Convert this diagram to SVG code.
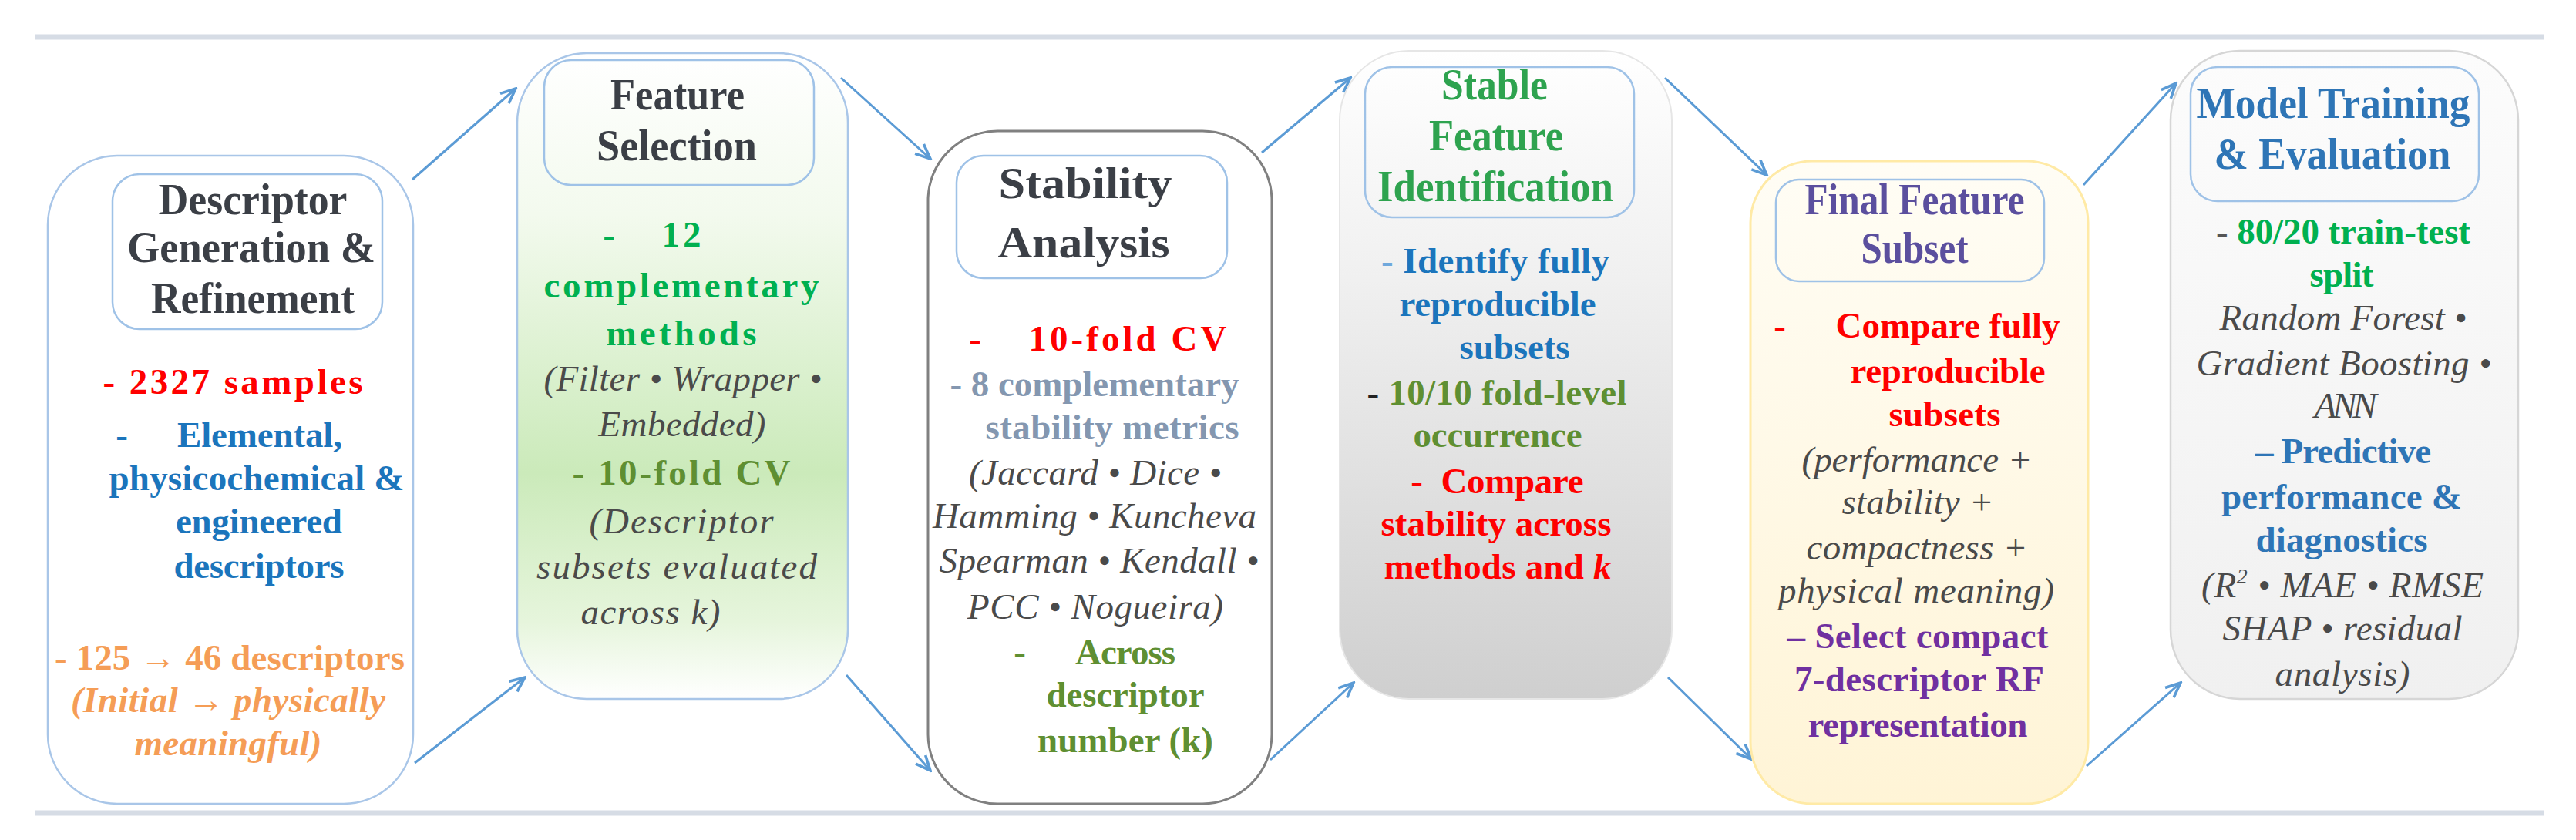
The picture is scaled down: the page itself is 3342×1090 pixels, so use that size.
<svg xmlns="http://www.w3.org/2000/svg" width="3342" height="1090" viewBox="0 0 3342 1090">
<style>
text{font-family:"Liberation Serif","Times New Roman",serif;text-anchor:middle}
.t{font-weight:bold;font-size:57px;fill:#3b3f46}
.b{font-weight:bold;font-size:47px}
.i{font-style:italic;font-size:47px;fill:#4a4a4a}
.red{fill:#ff0000}.blue{fill:#1b75bc}.org{fill:#f59d56}.grn{fill:#00b050}.olv{fill:#5f8f32}
.gb{fill:#8497b0}.pur{fill:#7030a0}.ttl{fill:none;stroke:#9fc2e7;stroke-width:2.5}
.con{fill:none;stroke:#5b9bd5;stroke-width:3;marker-end:url(#ah)}
</style>
<defs>
<marker id="ah" viewBox="0 0 20 20" markerUnits="userSpaceOnUse" markerWidth="24" markerHeight="24" refX="18" refY="10" orient="auto">
<path d="M2,3 L18,10 L2,17" fill="none" stroke="#5b9bd5" stroke-width="3"/>
</marker>
<linearGradient id="g2" x1="0" y1="0" x2="0" y2="1">
<stop offset="0" stop-color="#ffffff"/><stop offset="0.25" stop-color="#f3faee"/><stop offset="0.65" stop-color="#cbeaba"/><stop offset="0.88" stop-color="#e6f5dc"/><stop offset="1" stop-color="#ffffff"/>
</linearGradient>
<linearGradient id="g4" x1="0" y1="0" x2="0" y2="1">
<stop offset="0" stop-color="#ffffff"/><stop offset="0.35" stop-color="#f0f0f0"/><stop offset="1" stop-color="#cfcfcf"/>
</linearGradient>
<linearGradient id="g5" x1="0" y1="0" x2="0" y2="1">
<stop offset="0" stop-color="#fffdf5"/><stop offset="1" stop-color="#fff4d6"/>
</linearGradient>
<linearGradient id="g6" x1="0" y1="0" x2="0" y2="1">
<stop offset="0" stop-color="#fcfcfc"/><stop offset="1" stop-color="#f0f0f0"/>
</linearGradient>
</defs>
<rect width="3342" height="1090" fill="#ffffff"/>
<line x1="45" y1="48" x2="3300" y2="48" stroke="#d6dce5" stroke-width="7"/>
<line x1="45" y1="1055" x2="3300" y2="1055" stroke="#d6dce5" stroke-width="7"/>

<g id="connectors">
<line class="con" x1="535" y1="233" x2="669" y2="115"/>
<line class="con" x1="538" y1="990" x2="681" y2="879"/>
<line class="con" x1="1091" y1="101" x2="1207" y2="206"/>
<line class="con" x1="1098" y1="876" x2="1207" y2="1000"/>
<line class="con" x1="1637" y1="198" x2="1752" y2="101"/>
<line class="con" x1="1648" y1="986" x2="1756" y2="886"/>
<line class="con" x1="2160" y1="101" x2="2292" y2="227"/>
<line class="con" x1="2164" y1="879" x2="2272" y2="985"/>
<line class="con" x1="2703" y1="240" x2="2823" y2="108"/>
<line class="con" x1="2707" y1="994" x2="2829" y2="886"/>
</g>

<g id="node1">
<rect x="62" y="202" width="474" height="841" rx="90" fill="#ffffff" stroke="#a9c6e8" stroke-width="2.5"/>
<rect class="ttl" x="146" y="226" width="350" height="201" rx="35"/>
<text class="t" x="328" y="278" textLength="245" lengthAdjust="spacingAndGlyphs">Descriptor</text>
<text class="t" x="326" y="340" textLength="322" lengthAdjust="spacingAndGlyphs">Generation &amp;</text>
<text class="t" x="328" y="406" textLength="264" lengthAdjust="spacingAndGlyphs">Refinement</text>
<text class="b red" x="302" y="511" font-size="53" textLength="337">- 2327 samples</text>
<text class="b blue" x="158" y="580">-</text>
<text class="b blue" x="337" y="580" textLength="214">Elemental,</text>
<text class="b blue" x="333" y="636" textLength="383">physicochemical &amp;</text>
<text class="b blue" x="336" y="692" textLength="216">engineered</text>
<text class="b blue" x="336" y="750" textLength="221">descriptors</text>
<text class="b org" x="298" y="869" textLength="454">- 125 → 46 descriptors</text>
<text class="i org" x="296" y="924" font-weight="bold" textLength="408">(Initial → physically</text>
<text class="i org" x="296" y="980" font-weight="bold" textLength="243">meaningful)</text>
</g>

<g id="node2">
<rect x="671" y="69" width="429" height="838" rx="90" fill="url(#g2)" stroke="#a9c6e8" stroke-width="2.5"/>
<rect class="ttl" x="706" y="78" width="350" height="162" rx="35"/>
<text class="t" x="879" y="142" textLength="174" lengthAdjust="spacingAndGlyphs">Feature</text>
<text class="t" x="878" y="208" textLength="208" lengthAdjust="spacingAndGlyphs">Selection</text>
<text class="b grn" x="790" y="320" font-size="55">-</text>
<text class="b grn" x="884" y="320" font-size="55" textLength="51">12</text>
<text class="b grn" x="884" y="386" font-size="54" textLength="357">complementary</text>
<text class="b grn" x="884" y="448" font-size="54" textLength="195">methods</text>
<text class="i" x="886" y="507" textLength="361">(Filter • Wrapper •</text>
<text class="i" x="885" y="566" textLength="217">Embedded)</text>
<text class="b olv" x="884" y="629" font-size="53" textLength="283">- 10-fold CV</text>
<text class="i" x="884" y="692" textLength="239">(Descriptor</text>
<text class="i" x="878" y="751" textLength="364">subsets evaluated</text>
<text class="i" x="844" y="810" textLength="181">across k)</text>
</g>

<g id="node3">
<rect x="1204" y="170" width="446" height="873" rx="90" fill="#ffffff" stroke="#808080" stroke-width="3"/>
<rect class="ttl" x="1241" y="202" width="351" height="159" rx="35"/>
<text class="t" x="1408" y="257" font-size="64" textLength="225" lengthAdjust="spacingAndGlyphs">Stability</text>
<text class="t" x="1406" y="334" font-size="64" textLength="223" lengthAdjust="spacingAndGlyphs">Analysis</text>
<text class="b red" x="1265" y="455" font-size="55">-</text>
<text class="b red" x="1463" y="455" font-size="55" textLength="257">10-fold CV</text>
<text class="b gb" x="1420" y="514" textLength="375">- 8 complementary</text>
<text class="b gb" x="1443" y="570" textLength="329">stability  metrics</text>
<text class="i" x="1421" y="629" textLength="328">(Jaccard • Dice •</text>
<text class="i" x="1420" y="685" textLength="420">Hamming • Kuncheva</text>
<text class="i" x="1426" y="743" textLength="415">Spearman • Kendall •</text>
<text class="i" x="1421" y="803" textLength="332">PCC • Nogueira)</text>
<text class="b olv" x="1323" y="862">-</text>
<text class="b olv" x="1460" y="862" textLength="130">Across</text>
<text class="b olv" x="1460" y="917" textLength="205">descriptor</text>
<text class="b olv" x="1460" y="976" textLength="228">number (k)</text>
</g>

<g id="node4">
<rect x="1738" y="66" width="431" height="841" rx="90" fill="url(#g4)" stroke="#e6e6e6" stroke-width="2"/>
<rect class="ttl" x="1771" y="87" width="349" height="195" rx="35"/>
<text class="t" x="1939" y="129" style="fill:#2ea34f" textLength="138" lengthAdjust="spacingAndGlyphs">Stable</text>
<text class="t" x="1941" y="195" style="fill:#2ea34f" textLength="174" lengthAdjust="spacingAndGlyphs">Feature</text>
<text class="t" x="1940" y="261" style="fill:#2ea34f" textLength="306" lengthAdjust="spacingAndGlyphs">Identification</text>
<text class="b blue" x="1940" y="354" textLength="296"><tspan fill="#6fa8dc">-</tspan> Identify  fully</text>
<text class="b blue" x="1943" y="410" textLength="255">reproducible</text>
<text class="b blue" x="1965" y="466" textLength="143">subsets</text>
<text class="b olv" x="1942" y="525" textLength="337"><tspan fill="#222222">-</tspan> 10/10 fold-level</text>
<text class="b olv" x="1943" y="580" textLength="219">occurrence</text>
<text class="b red" x="1838" y="640">-</text>
<text class="b red" x="1962" y="640" textLength="185">Compare</text>
<text class="b red" x="1941" y="695" textLength="299">stability  across</text>
<text class="b red" x="1943" y="751" textLength="295">methods and <tspan font-style="italic">k</tspan></text>
</g>

<g id="node5">
<rect x="2271" y="209" width="438" height="834" rx="80" fill="url(#g5)" stroke="#ffeaa6" stroke-width="3"/>
<rect class="ttl" x="2304" y="233" width="348" height="132" rx="30"/>
<text class="t" x="2484" y="278" font-size="52" style="fill:#5b4f9e" textLength="285" lengthAdjust="spacingAndGlyphs">Final  Feature</text>
<text class="t" x="2484" y="341" font-size="52" style="fill:#5b4f9e" textLength="139" lengthAdjust="spacingAndGlyphs">Subset</text>
<text class="b red" x="2309" y="438">-</text>
<text class="b red" x="2527" y="438" textLength="291">Compare  fully</text>
<text class="b red" x="2527" y="497" textLength="253">reproducible</text>
<text class="b red" x="2523" y="553" textLength="145">subsets</text>
<text class="i" x="2487" y="612" textLength="299">(performance +</text>
<text class="i" x="2488" y="667" textLength="197">stability  +</text>
<text class="i" x="2487" y="726" textLength="287">compactness  +</text>
<text class="i" x="2486" y="782" textLength="358">physical meaning)</text>
<text class="b pur" x="2488" y="841" textLength="339">–  Select compact</text>
<text class="b pur" x="2490" y="897" textLength="324">7-descriptor  RF</text>
<text class="b pur" x="2488" y="956" textLength="285">representation</text>
</g>

<g id="node6">
<rect x="2816" y="66" width="451" height="841" rx="90" fill="url(#g6)" stroke="#d6d6d6" stroke-width="2.5"/>
<rect class="ttl" x="2842" y="87" width="374" height="174" rx="35"/>
<text class="t" x="3027" y="153" style="fill:#2e75b6" textLength="355" lengthAdjust="spacingAndGlyphs">Model Training</text>
<text class="t" x="3026" y="219" style="fill:#2e75b6" textLength="307" lengthAdjust="spacingAndGlyphs">&amp; Evaluation</text>
<text class="b grn" x="3040" y="316" textLength="330"><tspan fill="#555555">-</tspan> 80/20 train-test</text>
<text class="b grn" x="3038" y="372" textLength="83">split</text>
<text class="i" x="3040" y="428" textLength="321">Random Forest •</text>
<text class="i" x="3041" y="487" textLength="383">Gradient Boosting •</text>
<text class="i" x="3043" y="542" textLength="81">ANN</text>
<text class="b" x="3040" y="601" style="fill:#2e75b6" textLength="228">– Predictive</text>
<text class="b" x="3038" y="660" style="fill:#2e75b6" textLength="312">performance  &amp;</text>
<text class="b" x="3038" y="716" style="fill:#2e75b6" textLength="223">diagnostics</text>
<text class="i" x="3039" y="775" textLength="366">(R<tspan font-size="28" dy="-18">2</tspan><tspan dy="18"> • MAE • RMSE</tspan></text>
<text class="i" x="3039" y="831" textLength="311">SHAP • residual</text>
<text class="i" x="3039" y="890" textLength="175">analysis)</text>
</g>
</svg>
